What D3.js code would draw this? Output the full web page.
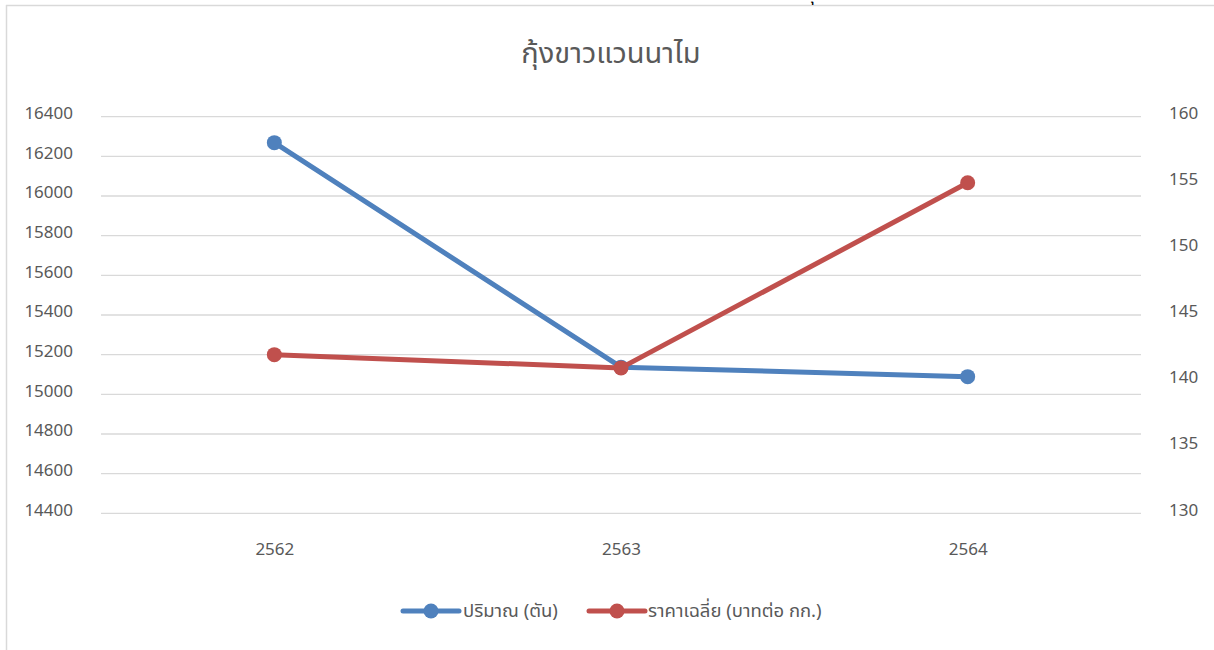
<!DOCTYPE html>
<html>
<head>
<meta charset="utf-8">
<script src="https://cdn.jsdelivr.net/npm/d3@7"></script>
<style>
  html, body { margin: 0; padding: 0; background: #fff; }
  svg { display: block; }
  text { font-family: "Leelawadee UI", "Noto Sans Thai", "Noto Sans", "DejaVu Sans", sans-serif; fill: #595959; }
</style>
</head>
<body>
<svg id="chart" width="1214" height="650"></svg>
<script>
const title = "กุ้งขาวแวนนาไม";
const categories = ["2562", "2563", "2564"];
const quantity = [16269, 15137, 15089];   // ปริมาณ (ตัน)
const price = [142, 141, 155];            // ราคาเฉลี่ย (บาทต่อ กก.)
const leftTicks = [14400, 14600, 14800, 15000, 15200, 15400, 15600, 15800, 16000, 16200, 16400];
const rightTicks = [130, 135, 140, 145, 150, 155, 160];
const seriesNames = ["ปริมาณ (ตัน)", "ราคาเฉลี่ย (บาทต่อ กก.)"];
const colors = ["#4f81bd", "#c0504d"];

const svg = d3.select("#chart");
const W = 1214, H = 650;
const plot = { left: 101, right: 1141, top: 116.7, bottom: 513.3 };

// outer frame (partially visible)
svg.append("line").attr("x1", 6).attr("x2", W).attr("y1", 5.5).attr("y2", 5.5)
  .attr("stroke", "#d9d9d9").attr("stroke-width", 1.5);
svg.append("line").attr("x1", 6.5).attr("x2", 6.5).attr("y1", 5).attr("y2", H)
  .attr("stroke", "#d9d9d9").attr("stroke-width", 1.5);
// glyph of a text above the frame, cut by the page edge as in the reference
svg.append("text").attr("x", 804).attr("y", 0).attr("font-size", 18)
  .style("fill", "#000").text("กุ");

const x = d3.scalePoint().domain(categories).range([plot.left, plot.right]).padding(0.5);
const yL = d3.scaleLinear().domain([14400, 16400]).range([plot.bottom, plot.top]);
const yR = d3.scaleLinear().domain([130, 160]).range([plot.bottom, plot.top]);

// gridlines
svg.append("g").selectAll("line").data(leftTicks).join("line")
  .attr("x1", plot.left).attr("x2", plot.right)
  .attr("y1", d => yL(d)).attr("y2", d => yL(d))
  .attr("stroke", "#d9d9d9").attr("stroke-width", 1.3);

// left axis
const axL = svg.append("g").attr("transform", `translate(${plot.left - 28},0)`)
  .call(d3.axisLeft(yL).tickValues(leftTicks).tickSize(0).tickPadding(0).tickFormat(d3.format("d")));
axL.select(".domain").remove();
axL.selectAll("text").attr("font-size", 17).attr("dy", "0.1em").style("fill", "#595959");

// right axis
const axR = svg.append("g").attr("transform", `translate(${plot.right + 28},0)`)
  .call(d3.axisRight(yR).tickValues(rightTicks).tickSize(0).tickPadding(0).tickFormat(d3.format("d")));
axR.select(".domain").remove();
axR.selectAll("text").attr("font-size", 17).attr("dy", "0.1em").style("fill", "#595959");

// bottom axis
const axB = svg.append("g").attr("transform", `translate(0,${plot.bottom + 36})`)
  .call(d3.axisBottom(x).tickSize(0).tickPadding(0));
axB.select(".domain").remove();
axB.selectAll("text").attr("font-size", 17).attr("dy", "0.32em").style("fill", "#595959");

// title
svg.append("text").attr("x", 611).attr("y", 63).attr("text-anchor", "middle")
  .attr("font-size", 29).text(title);

// series
const series = [
  { name: seriesNames[0], values: quantity, y: yL, color: colors[0] },
  { name: seriesNames[1], values: price, y: yR, color: colors[1] }
];
series.forEach(s => {
  const line = d3.line().x((d, i) => x(categories[i])).y(d => s.y(d));
  svg.append("path").datum(s.values).attr("d", line)
    .attr("fill", "none").attr("stroke", s.color).attr("stroke-width", 5)
    .attr("stroke-linejoin", "round").attr("stroke-linecap", "round");
  svg.append("g").selectAll("circle").data(s.values).join("circle")
    .attr("cx", (d, i) => x(categories[i])).attr("cy", d => s.y(d))
    .attr("r", 7.5).attr("fill", s.color);
});

// legend
const legendY = 611;
const legendItems = [
  { x0: 403, x1: 459, tx: 463 },
  { x0: 589, x1: 645, tx: 648 }
];
series.forEach((s, i) => {
  const li = legendItems[i];
  svg.append("line").attr("x1", li.x0).attr("x2", li.x1).attr("y1", legendY).attr("y2", legendY)
    .attr("stroke", s.color).attr("stroke-width", 5).attr("stroke-linecap", "round");
  svg.append("circle").attr("cx", (li.x0 + li.x1) / 2).attr("cy", legendY).attr("r", 7.5).attr("fill", s.color);
  svg.append("text").attr("x", li.tx).attr("y", legendY).attr("dy", "0.35em")
    .attr("font-size", 18.5).text(s.name);
});
</script>
</body>
</html>
